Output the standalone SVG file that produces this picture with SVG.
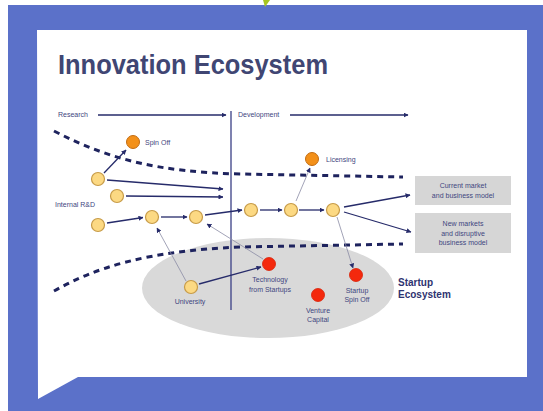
<svg xmlns="http://www.w3.org/2000/svg" width="543" height="411" viewBox="0 0 543 411">
<defs>
<marker id="ah" viewBox="0 0 10 10" refX="9" refY="5" markerWidth="5" markerHeight="5" orient="auto" markerUnits="userSpaceOnUse">
<path d="M0,0 L10,5 L0,10 z" fill="#262b6a"/>
</marker>
<marker id="ahs" viewBox="0 0 10 10" refX="9" refY="5" markerWidth="5" markerHeight="5" orient="auto" markerUnits="userSpaceOnUse">
<path d="M0,0 L10,5 L0,10 z" fill="#262b6a"/>
</marker>
</defs>
<style>
.lbl{font-family:"Liberation Sans",Arial,sans-serif;font-size:7px;fill:#3f4680}
.lblc{font-family:"Liberation Sans",Arial,sans-serif;font-size:7px;fill:#3f4680;text-anchor:middle}
.bold{font-family:"Liberation Sans",Arial,sans-serif;font-size:10px;font-weight:bold;fill:#2e3370}
.y{fill:#fcd983;stroke:#c79b48;stroke-width:1.2}
.o{fill:#f39019;stroke:#c26c12;stroke-width:1}
.r{fill:#f4290d;stroke:#d81f05;stroke-width:0.8}
.a{stroke:#262b6a;stroke-width:1.3;fill:none;marker-end:url(#ah)}
.t{stroke:#8a8ca4;stroke-width:0.8;fill:none;marker-end:url(#ahs)}
.d{stroke:#1e235e;stroke-width:3;fill:none;stroke-dasharray:6 5}
.box{fill:#d6d6d6}
</style>
<rect x="0" y="0" width="543" height="411" fill="#ffffff"/>
<rect x="8" y="5" width="535" height="406" fill="#5b71c9"/>
<path d="M263,0 L270,0 L265,7 z" fill="#a7c520"/>
<path d="M37,30 L527,30 L527,377 L78,377 L38,399 z" fill="#ffffff"/>
<text x="58" y="74" font-family="Liberation Sans,Arial,sans-serif" font-size="27" font-weight="bold" fill="#404673" textLength="270" lengthAdjust="spacingAndGlyphs">Innovation Ecosystem</text>

<ellipse cx="268" cy="288" rx="126" ry="50" fill="#d9d9d9"/>

<g id="axis">
<text class="lbl" x="58" y="117">Research</text>
<line class="a" x1="98" y1="115" x2="226" y2="115"/>
<line x1="231" y1="111" x2="231" y2="310" stroke="#3a3f85" stroke-width="1.3"/>
<text class="lbl" x="238" y="117">Development</text>
<line class="a" x1="290" y1="115" x2="408" y2="115"/>
</g>

<g id="boundaries">
<path class="d" d="M54,131 C110,160 160,172 240,174 L403,177"/>
<path class="d" d="M54,291 C95,268 145,251 240,247 L403,244"/>
</g>

<g id="connectors">
<line class="a" x1="104" y1="173" x2="126" y2="150"/>
<line class="a" x1="107" y1="180" x2="223" y2="189"/>
<line class="a" x1="126" y1="196" x2="223" y2="197"/>
<line class="a" x1="107" y1="223" x2="143" y2="217.5"/>
<line class="a" x1="161" y1="217" x2="187" y2="217"/>
<line class="a" x1="205" y1="215" x2="242" y2="210"/>
<line class="a" x1="260" y1="210" x2="282" y2="210"/>
<line class="a" x1="299" y1="210" x2="324" y2="210"/>
<line class="t" x1="296" y1="201" x2="310" y2="168"/>
<line class="a" x1="344" y1="207" x2="410" y2="195"/>
<line class="a" x1="344" y1="212" x2="411" y2="232"/>
<line class="t" x1="337" y1="217" x2="353" y2="268"/>
<line class="t" x1="186" y1="281" x2="157" y2="228"/>
<line class="t" x1="263" y1="259" x2="207" y2="224"/>
<line class="a" x1="199" y1="284" x2="261" y2="267"/>
</g>

<g id="spinoff"><circle class="o" cx="133" cy="142" r="6.5"/><text class="lbl" x="145" y="144.5">Spin Off</text></g>
<g id="licensing"><circle class="o" cx="312" cy="159" r="6.5"/><text class="lbl" x="326" y="161.5">Licensing</text></g>
<g id="n1"><circle class="y" cx="98" cy="179" r="6.5"/></g>
<g id="n2"><circle class="y" cx="117" cy="196" r="6.5"/></g>
<g id="internal"><text class="lbl" x="55" y="207">Internal R&amp;D</text></g>
<g id="n3"><circle class="y" cx="98" cy="225" r="6.5"/></g>
<g id="n4"><circle class="y" cx="152" cy="217" r="6.5"/></g>
<g id="n5"><circle class="y" cx="196" cy="217" r="6.5"/></g>
<g id="n6"><circle class="y" cx="251" cy="210" r="6.5"/></g>
<g id="n7"><circle class="y" cx="291" cy="210" r="6.5"/></g>
<g id="n8"><circle class="y" cx="333" cy="210" r="6.5"/></g>

<g id="current"><rect class="box" x="415" y="176" width="96" height="29"/>
<text class="lblc" x="463" y="188">Current market</text><text class="lblc" x="463" y="197.5">and business model</text></g>
<g id="newmarkets"><rect class="box" x="415" y="213" width="96" height="40"/>
<text class="lblc" x="463" y="226">New markets</text><text class="lblc" x="463" y="235.5">and disruptive</text><text class="lblc" x="463" y="245">business model</text></g>

<g id="university"><circle class="y" cx="191" cy="287" r="6.5"/><text class="lblc" x="190" y="304">University</text></g>
<g id="technology"><circle class="r" cx="269" cy="264" r="6.5"/><text class="lblc" x="270" y="282">Technology</text><text class="lblc" x="270" y="291.5">from Startups</text></g>
<g id="startupspinoff"><circle class="r" cx="356" cy="275" r="6.5"/><text class="lblc" x="357" y="293">Startup</text><text class="lblc" x="357" y="302">Spin Off</text></g>
<g id="venture"><circle class="r" cx="318" cy="295" r="6.5"/><text class="lblc" x="318" y="313">Venture</text><text class="lblc" x="318" y="322">Capital</text></g>
<g id="ecosystem"><text class="bold" x="398" y="286">Startup</text><text class="bold" x="398" y="298">Ecosystem</text></g>
</svg>
